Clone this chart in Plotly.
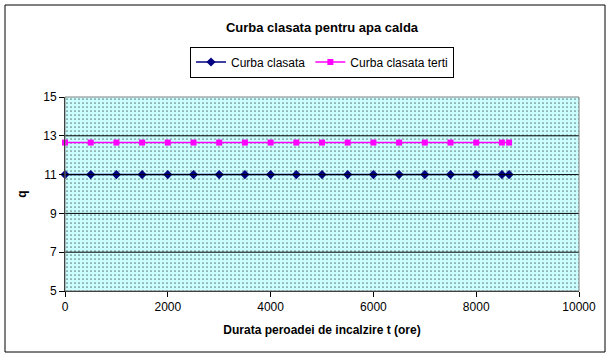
import plotly.graph_objects as go

t_hours = [0, 500, 1000, 1500, 2000, 2500, 3000, 3500, 4000, 4500, 5000,
           5500, 6000, 6500, 7000, 7500, 8000, 8500, 8640]
q_clasata = [11.0] * len(t_hours)
q_terti = [12.65] * len(t_hours)

x_range = [0, 10000]
y_range = [5, 15]
y_ticks = [5, 7, 9, 11, 13, 15]
x_ticks = [0, 2000, 4000, 6000, 8000, 10000]

FONT = "Liberation Sans, Arial, sans-serif"

fig = go.Figure()

# patterned plot-area background
fig.add_trace(go.Scatter(
    x=[x_range[0], x_range[1], x_range[1], x_range[0], x_range[0]],
    y=[y_range[0], y_range[0], y_range[1], y_range[1], y_range[0]],
    mode="lines", line=dict(width=0), fill="toself",
    fillcolor="#CCFFFF",
    fillpattern=dict(shape=".", fgcolor="#000000", bgcolor="#CCFFFF",
                     size=4, solidity=0.15),
    showlegend=False, hoverinfo="skip"))

# horizontal black gridlines
for yv in y_ticks[1:-1]:
    fig.add_shape(type="line", xref="x", yref="y", x0=x_range[0], x1=x_range[1],
                  y0=yv, y1=yv, line=dict(color="black", width=1), layer="above")

fig.add_trace(go.Scatter(
    x=t_hours, y=q_clasata, mode="lines+markers", name="Curba clasata",
    line=dict(color="#000080", width=1.5), cliponaxis=False,
    marker=dict(symbol="diamond", size=7, color="#000080")))
fig.add_trace(go.Scatter(
    x=t_hours, y=q_terti, mode="lines+markers", name="Curba clasata terti",
    line=dict(color="#FF00FF", width=1.5), cliponaxis=False,
    marker=dict(symbol="square", size=6, color="#FF00FF")))

L, R, T, B = 65, 33, 97, 71
W, H = 612, 362
pw, ph = W - L - R, H - T - B

def px(x):
    return (x - L) / pw

def py(y):
    return (H - B - y) / ph

# plot-area gray border
fig.add_shape(type="rect", xref="paper", yref="paper", x0=0, x1=1, y0=0, y1=1,
              line=dict(color="#808080", width=1), layer="above")
# outer chart border
fig.add_shape(type="rect", xref="paper", yref="paper",
              x0=px(5), x1=px(605), y0=py(352), y1=py(5),
              line=dict(color="black", width=1))

fig.update_layout(
    width=W, height=H,
    margin=dict(l=L, r=R, t=T, b=B),
    paper_bgcolor="white", plot_bgcolor="white",
    font=dict(family=FONT, size=12, color="black"),
    title=dict(text="<b>Curba clasata pentru apa calda</b>", x=0.5, xref="paper",
               xanchor="center", y=1 - 27 / H, yanchor="middle",
               font=dict(size=13, family=FONT)),
    legend=dict(orientation="h", x=px(322), xanchor="center", y=py(62), yanchor="middle",
                bordercolor="black", borderwidth=1, bgcolor="white",
                font=dict(size=12, family=FONT), itemwidth=30,
                tracegroupgap=0),
    xaxis=dict(range=x_range, tickvals=x_ticks, tickformat="d", showgrid=False,
               zeroline=False, showline=True, linecolor="black", linewidth=1,
               ticks="outside", ticklen=5, tickcolor="black",
               title=dict(text="<b>Durata peroadei de incalzire t (ore)</b>",
                          standoff=12, font=dict(size=12))),
    yaxis=dict(range=y_range, tickvals=y_ticks, showgrid=False, zeroline=False,
               showline=True, linecolor="black", linewidth=1,
               ticks="outside", ticklen=5, tickcolor="black",
               title=dict(text="<b>q</b>", standoff=14, font=dict(size=12))),
)

fig.write_html("out.html", config={"displayModeBar": False},
               post_script="document.body.style.margin='0';")
